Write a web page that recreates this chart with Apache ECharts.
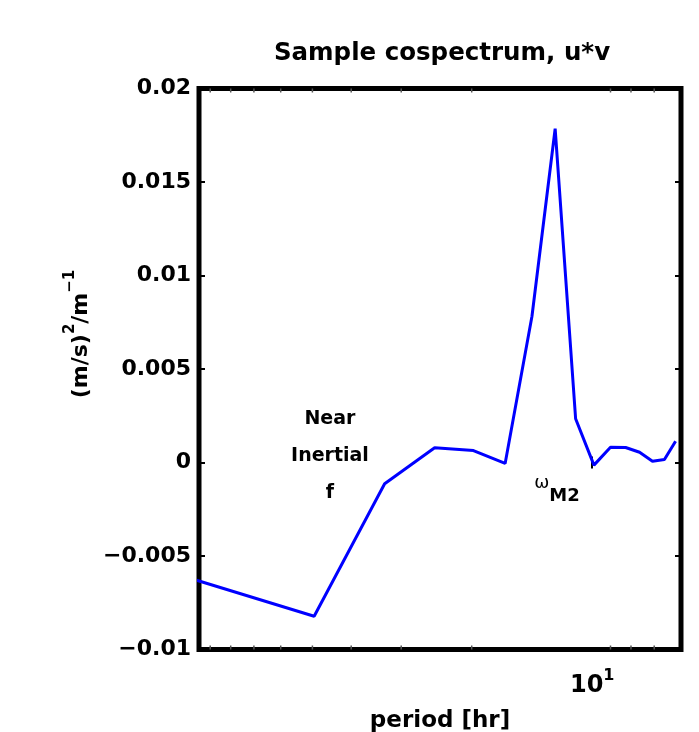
<!DOCTYPE html>
<html><head><meta charset="utf-8">
<script src="https://cdn.jsdelivr.net/npm/echarts@6/dist/echarts.min.js"></script>
<style>html,body{margin:0;padding:0;background:#fff}#c{width:699px;height:732px}</style>
</head><body><div id="c"></div>
<script>
// periods [hr] and cospectrum values
const periods = [99, 49.5, 33, 24.75, 19.8, 16.5, 14.14, 12.375, 11, 9.9, 9, 8.25, 7.615, 7.07, 6.6, 6.19];
const cospec = [-0.00625, -0.00822, -0.00114, 0.00079, 0.00064, -0.00005, 0.00782, 0.01785, 0.00234, -0.00014, 0.00082, 0.0008, 0.00055, 0.00007, 0.00016, 0.00114];
const yTicks = [-0.01, -0.005, 0, 0.005, 0.01, 0.015, 0.02];
const yTickLabels = ['\u22120.01', '\u22120.005', '0', '0.005', '0.01', '0.015', '0.02'];
const xMajorTicks = [10];
const xMajorLabels = ['{b|10}{s|1}'];
const xMinorTicks = [90, 80, 70, 60, 50, 40, 30, 20, 9, 8, 7];
const annX = [45.2, 12.25];
const annY = [0.00037, -0.0018];
const annText = ['Near\nInertial\nf', '{w|\u03c9}{m|M2}'];

const FONT = 'DejaVu Sans';
const yMin = -0.01, yMax = 0.02;
const chart = echarts.init(document.getElementById('c'), null, {renderer: 'canvas'});

function yFmt(v) {
  const i = yTicks.findIndex(t => Math.abs(t - v) < 1e-9);
  return i >= 0 ? yTickLabels[i] : '';
}
function xFmt(v) {
  const i = xMajorTicks.findIndex(t => Math.abs(t - v) < 1e-6);
  return i >= 0 ? xMajorLabels[i] : '';
}

const xCommon = {
  type: 'log', logBase: 10, min: 6, max: 96, inverse: true,
  axisLine: {show: false}, splitLine: {show: false},
  axisTick: {show: true, inside: true, length: 6, lineStyle: {color: '#000', width: 2}}
};
const yCommon = {
  type: 'value', min: yMin, max: yMax, interval: 0.005,
  axisLine: {show: false}, splitLine: {show: false},
  axisTick: {show: true, inside: true, length: 6, lineStyle: {color: '#000', width: 2}}
};

chart.setOption({
  animation: false,
  backgroundColor: '#fff',
  title: {
    text: 'Sample cospectrum, u*v', left: 437, textAlign: 'center', top: 36,
    textStyle: {fontFamily: FONT, fontWeight: 'bold', fontSize: 24.5, color: '#000'}
  },
  grid: {left: 199, right: 18, top: 88.5, bottom: 82.5, show: true, borderColor: '#000', borderWidth: 5,
    backgroundColor: 'transparent', containLabel: false, outerBoundsMode: 'none'},
  xAxis: [
    Object.assign({}, xCommon, {
      position: 'bottom',
      axisLabel: {
        show: true, margin: 18.5, formatter: xFmt, showMinLabel: false, showMaxLabel: false,
        color: '#000',
        rich: {
          b: {fontFamily: FONT, fontWeight: 'bold', fontSize: 24, lineHeight: 36, color: '#000'},
          s: {fontFamily: FONT, fontWeight: 'bold', fontSize: 16, lineHeight: 14, verticalAlign: 'top', color: '#000'}
        }
      },
      name: 'period [hr]', nameLocation: 'middle', nameGap: 60,
      nameTextStyle: {fontFamily: FONT, fontWeight: 'bold', fontSize: 23, color: '#000'}
    }),
    Object.assign({}, xCommon, {position: 'top', axisLabel: {show: false}})
  ],
  yAxis: [
    Object.assign({}, yCommon, {
      position: 'left',
      axisLabel: {show: true, margin: 8, formatter: yFmt, fontFamily: FONT, fontWeight: 'bold', fontSize: 22, color: '#000'},
      name: '{b|(m/s)}{sup|2}{b|/m}{sup|\u22121}', nameLocation: 'middle', nameGap: 100,
      nameTextStyle: {
        padding: [0, 0, 0, 70],
        rich: {
          b: {fontFamily: FONT, fontWeight: 'bold', fontSize: 22, lineHeight: 36, color: '#000'},
          sup: {fontFamily: FONT, fontWeight: 'bold', fontSize: 15, lineHeight: 14, verticalAlign: 'top', color: '#000'}
        }
      }
    }),
    Object.assign({}, yCommon, {position: 'right', axisLabel: {show: false}})
  ],
  series: [
    {
      type: 'line', xAxisIndex: 0, yAxisIndex: 0,
      data: periods.map((p, i) => [p, cospec[i]]),
      symbol: 'none', clip: true,
      lineStyle: {color: '#0000ff', width: 3},
      z: 3
    },
    {
      type: 'custom', xAxisIndex: 0, yAxisIndex: 0,
      data: xMinorTicks.map(v => [v, 0]),
      silent: true,
      renderItem: function (params, api) {
        const v = api.value(0);
        const b = api.coord([v, yMin]);
        const t = api.coord([v, yMax]);
        return {type: 'group', children: [
          {type: 'line', shape: {x1: b[0], y1: b[1], x2: b[0], y2: b[1] - 4}, style: {stroke: '#555', lineWidth: 1.5}},
          {type: 'line', shape: {x1: t[0], y1: t[1], x2: t[0], y2: t[1] + 4}, style: {stroke: '#555', lineWidth: 1.5}}
        ]};
      },
      z: 1
    },
    {
      type: 'custom', xAxisIndex: 0, yAxisIndex: 0,
      data: annX.map((x, i) => [x, annY[i], i]),
      silent: true,
      renderItem: function (params, api) {
        const p = api.coord([api.value(0), api.value(1)]);
        const i = api.value(2);
        return {
          type: 'text', x: p[0], y: p[1], z2: 10,
          style: {
            text: annText[i], fill: '#000', align: 'center', verticalAlign: 'middle',
            fontFamily: FONT, fontWeight: 'bold', fontSize: 19, lineHeight: 37,
            rich: {
              w: {fontFamily: FONT, fontWeight: 'normal', fontSize: 18, lineHeight: 14, verticalAlign: 'top', fill: '#000'},
              m: {fontFamily: FONT, fontWeight: 'bold', fontSize: 18, lineHeight: 44, fill: '#000'}
            }
          }
        };
      },
      z: 4
    }
  ]
});
</script>
</body></html>
